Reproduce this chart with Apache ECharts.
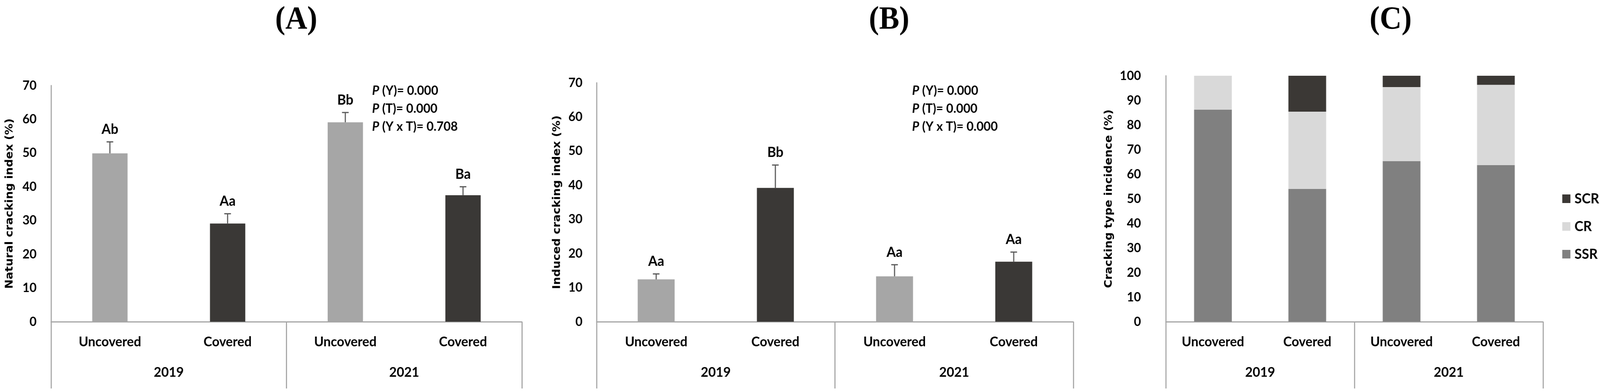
<!DOCTYPE html>
<html>
<head>
<meta charset="utf-8">
<script src="https://cdn.jsdelivr.net/npm/echarts@6/dist/echarts.min.js"></script>
<style>
html,body{margin:0;padding:0;background:#fff;overflow:hidden;}
#chart{width:4326px;height:1004px;transform-origin:0 0;}
</style>
</head>
<body>
<div id="chart"></div>
<script>
// ---- data ----
var treatments = ['Uncovered', 'Covered', 'Uncovered', 'Covered'];
var years = ['2019', '2021'];

var naturalMean = [49.9, 29.1, 59.1, 37.5];
var naturalUpper = [53.3, 32.0, 62.0, 40.0];
var naturalLetters = ['Ab', 'Aa', 'Bb', 'Ba'];

var inducedMean = [12.4, 39.2, 13.3, 17.6];
var inducedUpper = [14.0, 45.9, 16.7, 20.4];
var inducedLetters = ['Aa', 'Bb', 'Aa', 'Aa'];

var ssr = [86.2, 54.0, 65.3, 63.7];
var cr = [13.8, 31.4, 30.1, 32.6];
var scr = [0, 14.6, 4.6, 3.7];

var pTextA = ['(Y)= 0.000', '(T)= 0.000', '(Y x T)= 0.708'];
var pTextB = ['(Y)= 0.000', '(T)= 0.000', '(Y x T)= 0.000'];

// ---- styles ----
var LIGHT = '#A6A6A6', DARK = '#3A3836';
var AXIS = '#A6A6A6', ERR = '#595959';
var FONT = 'Lato';

var grids = [
  {left: 138, top: 219, width: 1273, height: 605},
  {left: 1613, top: 212, width: 1289, height: 612},
  {left: 3152, top: 194, width: 1020, height: 630}
];

function catAxes(g) {
  return [
    {type: 'category', gridIndex: g, data: treatments, position: 'bottom',
     axisLine: {show: true, lineStyle: {color: AXIS, width: 3}},
     axisTick: {show: false},
     axisLabel: {margin: 34, fontFamily: FONT, fontWeight: 'bold', fontSize: 35, color: '#000', interval: 0}},
    {type: 'category', gridIndex: g, data: years, position: 'bottom',
     axisLine: {show: false},
     axisTick: {show: true, length: 171, lineStyle: {color: AXIS, width: 3}},
     axisLabel: {margin: 112, fontFamily: FONT, fontWeight: 'bold', fontSize: 35, color: '#000'}}
  ];
}

function valAxis(g, max, name, margin, nameGap) {
  return {type: 'value', gridIndex: g, min: 0, max: max, interval: 10,
    axisLine: {show: true, lineStyle: {color: AXIS, width: 3}},
    axisTick: {show: false}, splitLine: {show: false},
    axisLabel: {margin: margin, fontFamily: FONT, fontWeight: 'bold', fontSize: 33, color: '#000'},
    name: name, nameLocation: 'middle', nameGap: nameGap, nameRotate: 90,
    nameTextStyle: {fontFamily: 'DejaVu Sans', fontWeight: 'bold', fontSize: 29, color: '#000'}
  };
}

function errSeries(axisIdx, mean, upper, letters) {
  var data = mean.map(function (m, i) { return [i, m, upper[i]]; });
  return {
    type: 'custom', xAxisIndex: axisIdx, yAxisIndex: axisIdx / 2, z: 5,
    data: data, encode: {x: 0, y: [1, 2]},
    renderItem: function (params, api) {
      var x = api.value(0), m = api.value(1), u = api.value(2);
      var p0 = api.coord([x, m]), p1 = api.coord([x, u]);
      return {type: 'group', children: [
        {type: 'line', shape: {x1: p0[0], y1: p0[1], x2: p1[0], y2: p1[1]}, style: {stroke: ERR, lineWidth: 3}},
        {type: 'line', shape: {x1: p1[0] - 9, y1: p1[1], x2: p1[0] + 9, y2: p1[1]}, style: {stroke: ERR, lineWidth: 3}},
        {type: 'text', x: p1[0], y: p1[1] - 32, style: {text: letters[params.dataIndex], align: 'center', verticalAlign: 'middle', font: 'bold 36px ' + FONT, fill: '#000'}}
      ]};
    }
  };
}

function barSeries(axisIdx, mean, widthPct) {
  return {type: 'bar', xAxisIndex: axisIdx, yAxisIndex: axisIdx / 2, barWidth: widthPct,
    data: mean.map(function (v, i) { return {value: v, itemStyle: {color: i % 2 === 0 ? LIGHT : DARK}}; })};
}

function pGraphics(x, lines) {
  return lines.map(function (t, k) {
    return {type: 'text', x: x, y: 232 + k * 46,
      style: {text: '{i|P} ' + t, align: 'left', verticalAlign: 'middle', fill: '#000',
        font: 'bold 33px ' + FONT,
        rich: {i: {fontStyle: 'italic', fontWeight: 'bold', fontSize: 33, fontFamily: FONT, fill: '#000'}}}};
  });
}

function titleG(x, t) {
  return {type: 'text', x: x, y: 52, style: {text: t, align: 'center', verticalAlign: 'middle',
    font: 'bold 82px "Liberation Serif"', fill: '#000'}};
}

var option = {
  backgroundColor: '#fff',
  animation: false,
  grid: grids,
  xAxis: catAxes(0).concat(catAxes(1)).concat(catAxes(2)),
  yAxis: [
    valAxis(0, 70, 'Natural cracking index (%)', 39, 97),
    valAxis(1, 70, 'Induced cracking index (%)', 38, 92),
    valAxis(2, 100, 'Cracking type incidence (%)', 67, 139)
  ],
  legend: {data: ['SCR', 'CR', 'SSR'], orient: 'vertical', left: 4219, top: 486,
    itemWidth: 22, itemHeight: 22, itemGap: 35, icon: 'rect',
    textStyle: {fontFamily: FONT, fontWeight: 'bold', fontSize: 36, color: '#000', padding: [0, 0, 0, 6]}},
  series: [
    barSeries(0, naturalMean, '30%'),
    errSeries(0, naturalMean, naturalUpper, naturalLetters),
    barSeries(2, inducedMean, '31%'),
    errSeries(2, inducedMean, inducedUpper, inducedLetters),
    {name: 'SSR', type: 'bar', stack: 'c', xAxisIndex: 4, yAxisIndex: 2, barWidth: '40%', data: ssr, itemStyle: {color: '#808080'}},
    {name: 'CR', type: 'bar', stack: 'c', xAxisIndex: 4, yAxisIndex: 2, barWidth: '40%', data: cr, itemStyle: {color: '#D9D9D9'}},
    {name: 'SCR', type: 'bar', stack: 'c', xAxisIndex: 4, yAxisIndex: 2, barWidth: '40%', data: scr, itemStyle: {color: '#3B3835'}}
  ],
  graphic: [titleG(801, '(A)'), titleG(2404, '(B)'), titleG(3760, '(C)')]
    .concat(pGraphics(1006, pTextA)).concat(pGraphics(2466, pTextB))
};

// fit the fixed 4326x1004 drawing to the actual viewport
var el = document.getElementById('chart');
var vw = window.innerWidth || 4326, vh = window.innerHeight || 1004;
if (Math.abs(vw - 4326) > 1 || Math.abs(vh - 1004) > 1) {
  el.style.transform = 'scale(' + (vw / 4326) + ',' + (vh / 1004) + ')';
}
var chart = echarts.init(el, null, {renderer: 'canvas'});
chart.setOption(option);
</script>
</body>
</html>
